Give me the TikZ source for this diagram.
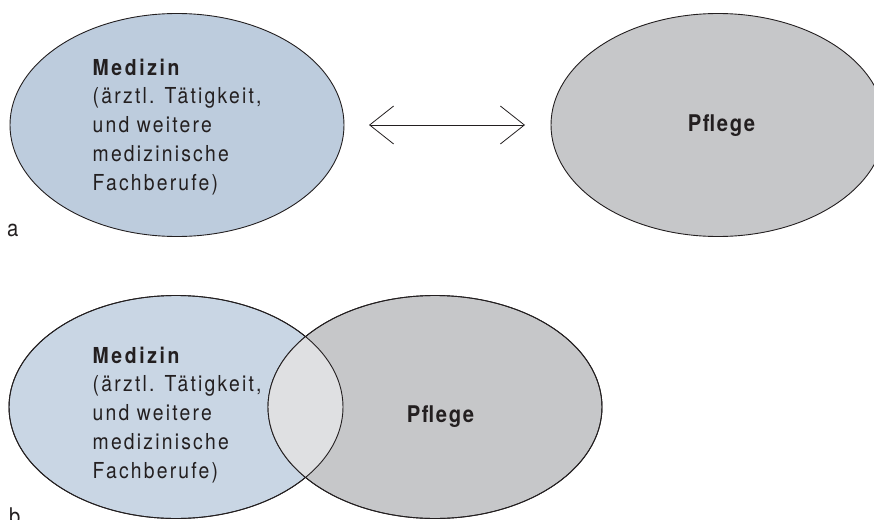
\documentclass[tikz,border=0pt]{standalone}
\usepackage{fontspec}
\setmainfont{TeX Gyre Heros}[FakeStretch=0.88]
\newfontfamily\spacedfont{TeX Gyre Heros}[FakeStretch=0.88,LetterSpace=10]
\newfontfamily\spacedfontm{TeX Gyre Heros}[FakeStretch=0.88,LetterSpace=12]
\newfontfamily\spacedfontb{TeX Gyre Heros}[FakeStretch=0.88,LetterSpace=7]
\usetikzlibrary{shapes.geometric,arrows.meta}
\definecolor{medfillA}{HTML}{BDCCDD}
\definecolor{medfillB}{HTML}{C9D6E4}
\definecolor{pflfill}{HTML}{C6C7C9}
\definecolor{lensfill}{HTML}{DFE0E2}
\definecolor{outline}{HTML}{231F20}
\begin{document}
\begin{tikzpicture}[x=1pt,y=-1pt,
  ell/.style={ellipse, draw=outline, line width=0.9pt, inner sep=0pt, outer sep=0pt,
    minimum width=334pt, minimum height=223pt},
  blocktext/.style={anchor=base west, align=left, inner sep=0pt, text=outline,
    font=\fontsize{22}{28.7}\selectfont\spacedfont},
  titletext/.style={anchor=base, inner sep=0pt, text=outline,
    font=\fontsize{23}{24}\selectfont\spacedfontb\bfseries},
  labeltext/.style={anchor=base west, inner sep=0pt, text=outline,
    font=\fontsize{23}{24}\selectfont},
  arrowtip/.tip={Straight Barb[length=24pt,width=38pt]}
]
\useasboundingbox (0,0) rectangle (874,519);
% part a
\node[ell, fill=medfillA] (medA) at (177,125) {};
\node[ell, fill=pflfill] (pflA) at (718,125) {};
\node[blocktext] (medAtext) at (92.5,190) {{\spacedfontm\bfseries Medizin}\\(ärztl. Tätigkeit,\\und weitere\\medizinische\\Fachberufe)};
\node[titletext] (pflAtext) at (721.5,131) {Pflege};
\draw[line width=0.8pt, draw=outline, arrowtip-arrowtip, shorten <=25pt, shorten >=26pt] (medA) -- (pflA);
\node[labeltext] (labA) at (7,236) {a};
% part b
\node[ell, fill=medfillB] (medB) at (176,407) {};
\node[ell, fill=pflfill] (pflB) at (435,407) {};
\begin{scope}
  \clip (176,407) ellipse [x radius=167, y radius=111.5];
  \fill[lensfill] (435,407) ellipse [x radius=167, y radius=111.5];
\end{scope}
\draw[line width=0.9pt, draw=outline] (176,407) ellipse [x radius=167, y radius=111.5];
\draw[line width=0.9pt, draw=outline] (435,407) ellipse [x radius=167, y radius=111.5];
\node[blocktext] (medBtext) at (92.5,478) {{\spacedfontm\bfseries Medizin}\\(ärztl. Tätigkeit,\\und weitere\\medizinische\\Fachberufe)};
\node[titletext] (pflBtext) at (440.5,422) {Pflege};
\node[labeltext] (labB) at (9,524) {b};
\end{tikzpicture}
\end{document}
